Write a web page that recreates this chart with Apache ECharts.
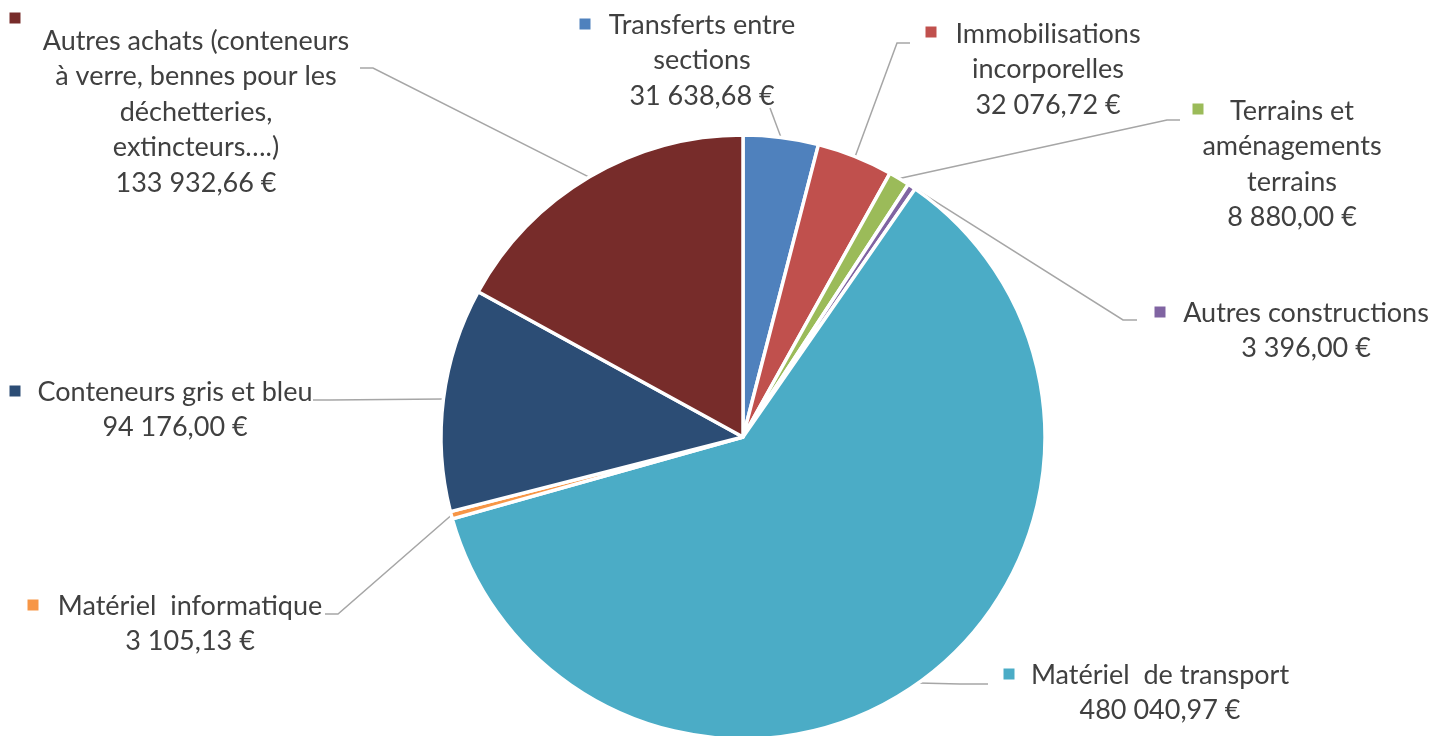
<!DOCTYPE html>
<html>
<head>
<meta charset="utf-8">
<script src="https://cdn.jsdelivr.net/npm/echarts@6/dist/echarts.min.js"></script>
<style>
html,body{margin:0;padding:0;background:#fff;}
#chart{width:1449px;height:736px;}
</style>
</head>
<body>
<div id="chart"></div>
<script>
// ---- data ----
const categories = [
  'Transferts entre\nsections',
  'Immobilisations\nincorporelles',
  'Terrains et\naménagements\nterrains',
  'Autres constructions',
  'Matériel  de transport',
  'Matériel  informatique',
  'Conteneurs gris et bleu',
  'Autres achats (conteneurs\nà verre, bennes pour les\ndéchetteries,\nextincteurs….)'
];
const values = [31638.68, 32076.72, 8880.00, 3396.00, 480040.97, 3105.13, 94176.00, 133932.66];

// ---- styles / layout (separate from data) ----
const colors = ['#4F81BD', '#C0504D', '#9BBB59', '#8064A2', '#4BACC6', '#F79646', '#2C4D75', '#772C2A'];
// label text block: center x, first line center y
const labelPos = [[702,25],[1048,34],[1292,111],[1306,313],[1160,675],[190,606],[175,392],[196,41]];
// legend key squares (center)
const markerPos = [[585,24],[931,32],[1198,109],[1160,312],[1009,674],[33,605],[15,391],[15,18]];
// leader line elbow and end points
const linePts = [
  [[770,108],[770,108]],
  [[897,43],[910,43]],
  [[1167,120],[1180,120]],
  [[1123,320],[1137,320]],
  [[960,684],[988,684]],
  [[338,614],[325,614]],
  [[330,400],[313,400]],
  [[373,68],[360,68]]
];
const LH = 35.5;
const FONT = 'Lato';
const FS = 27;
const CX = 743, CY = 437, R = 302;

function fmt(v) {
  const s = v.toFixed(2).split('.');
  const int = s[0].replace(/\B(?=(\d{3})+(?!\d))/g, ' ');
  return int + ',' + s[1] + ' €';
}

const total = values.reduce((a, b) => a + b, 0);
function edgePoint(i) {
  let before = 0;
  for (let k = 0; k < i; k++) before += values[k];
  const mid = (before + values[i] / 2) / total * 2 * Math.PI;
  return [CX + R * Math.sin(mid), CY - R * Math.cos(mid)];
}

const mainData = categories.map((c, i) => ({ name: c, value: values[i], itemStyle: { color: colors[i] } }));
const markerData = categories.map((c, i) => ({
  name: c, value: values[i],
  label: { rich: { m: { width: 11, height: 11, backgroundColor: colors[i] } } }
}));

const chart = echarts.init(document.getElementById('chart'), null, { renderer: 'canvas' });
chart.setOption({
  backgroundColor: '#ffffff',
  animation: false,
  series: [
    {
      type: 'pie',
      center: [CX, CY],
      radius: [0, R],
      startAngle: 90,
      clockwise: true,
      avoidLabelOverlap: false,
      data: mainData,
      itemStyle: { borderColor: '#ffffff', borderWidth: 3.5 },
      emphasis: { disabled: true },
      label: {
        show: true,
        position: 'outside',
        formatter: p => p.name + '\n' + fmt(p.value),
        fontFamily: FONT,
        fontSize: FS,
        lineHeight: LH,
        color: '#404040',
        align: 'center'
      },
      labelLine: {
        show: true,
        length: 10,
        length2: 10,
        smooth: false,
        lineStyle: { color: '#A6A6A6', width: 1.5 }
      },
      labelLayout: function (params) {
        const i = params.dataIndex;
        const p0 = edgePoint(i);
        return {
          x: labelPos[i][0],
          y: labelPos[i][1] - LH / 2,
          align: 'center',
          verticalAlign: 'top',
          labelLinePoints: [p0, linePts[i][0], linePts[i][1]]
        };
      }
    },
    {
      type: 'pie',
      center: [CX, CY],
      radius: [0, R],
      startAngle: 90,
      clockwise: true,
      silent: true,
      z: 1,
      avoidLabelOverlap: false,
      data: markerData,
      itemStyle: { color: 'rgba(0,0,0,0)', borderWidth: 0 },
      emphasis: { disabled: true },
      label: {
        show: true,
        position: 'outside',
        formatter: '{m|}'
      },
      labelLine: { show: false },
      labelLayout: function (params) {
        const i = params.dataIndex;
        return {
          x: markerPos[i][0],
          y: markerPos[i][1],
          align: 'center',
          verticalAlign: 'middle'
        };
      }
    }
  ]
});
</script>
</body>
</html>
